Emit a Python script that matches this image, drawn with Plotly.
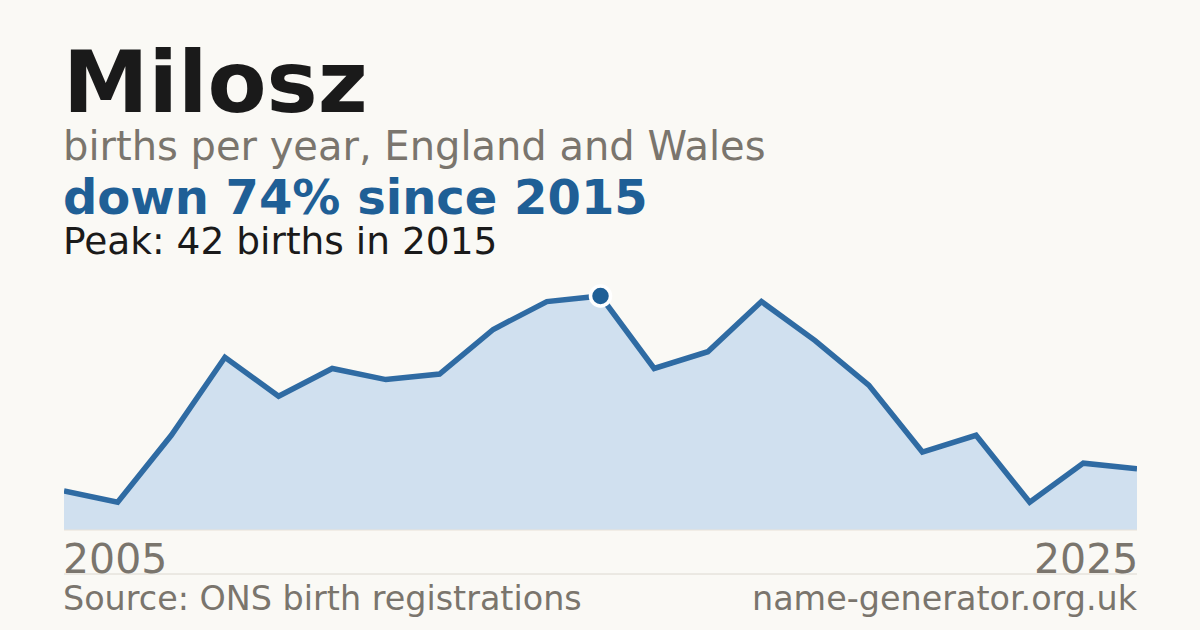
import plotly.graph_objects as go

years = list(range(2005, 2026))
births = [7, 5, 17, 31, 24, 29, 27, 28, 36, 41, 42, 29, 32, 41, 34, 26, 14, 17, 5, 12, 11]
peak_year = 2015
peak_value = 42
name = "Milosz"
subtitle = "births per year, England and Wales"
headline = "down 74% since 2015"
peak_text = "Peak: 42 births in 2015"
tick_labels = ["2005", "2025"]
source_text = "Source: ONS birth registrations"
site_text = "name-generator.org.uk"

BG = "#faf9f5"
BLUE = "#1f5f96"
LINE = "#2f6ba3"
FILL = "#d0e0ef"
GREY = "#7a756d"
DARK = "#1a1a1a"
FONT = "DejaVu Sans"

fig = go.Figure()
fig.add_trace(go.Scatter(
    x=years, y=births, mode="lines", fill="tozeroy",
    fillcolor=FILL, line=dict(color=LINE, width=5.5), hoverinfo="skip",
))
fig.add_trace(go.Scatter(
    x=[peak_year], y=[peak_value], mode="markers", cliponaxis=False,
    marker=dict(size=20, color=BLUE, line=dict(color="white", width=3.5)),
    hoverinfo="skip",
))

H = 260.0
def py(pix):
    return (530 - pix) / H

ann = []
ann.append(dict(text="<b>" + name + "</b>", x=0, y=py(82), font=dict(size=86, color=DARK)))
ann.append(dict(text=subtitle, x=0, y=py(146), font=dict(size=40, color=GREY)))
ann.append(dict(text="<b>" + headline + "</b>", x=0, y=py(197), font=dict(size=48, color=BLUE)))
ann.append(dict(text=peak_text, x=0, y=py(241), font=dict(size=37.5, color=DARK)))
ann.append(dict(text=tick_labels[0], x=0, y=py(559), font=dict(size=41, color=GREY)))
ann.append(dict(text=tick_labels[1], x=1, y=py(559), xanchor="right", font=dict(size=41, color=GREY)))
ann.append(dict(text=source_text, x=0, y=py(598), font=dict(size=33.4, color=GREY)))
ann.append(dict(text=site_text, x=1, y=py(598), xanchor="right", font=dict(size=33.4, color=GREY)))
for a in ann:
    a.setdefault("xanchor", "left")
    a["xshift"] = -3 if a["xanchor"] == "left" else 3
    a.update(xref="paper", yref="paper", yanchor="middle", showarrow=False)

fig.update_layout(
    width=1200, height=630,
    paper_bgcolor=BG, plot_bgcolor=BG,
    margin=dict(l=64, r=63, t=270, b=100),
    showlegend=False,
    font=dict(family=FONT),
    annotations=ann,
    xaxis=dict(range=[2005, 2025], visible=False, fixedrange=True),
    yaxis=dict(range=[0, 46.67], visible=False, fixedrange=True),
    shapes=[
        dict(type="line", xref="paper", yref="paper", x0=0, x1=1, y0=py(574), y1=py(574),
             line=dict(color="#dcd8d0", width=1)),
        dict(type="line", xref="paper", yref="paper", x0=0, x1=1, y0=0, y1=0,
             line=dict(color="#e8e2d8", width=1)),
    ],
)
fig.write_html(
    "out.html",
    config={"displayModeBar": False},
    post_script="document.body.style.margin='0';document.body.style.background='#faf9f5';",
)
